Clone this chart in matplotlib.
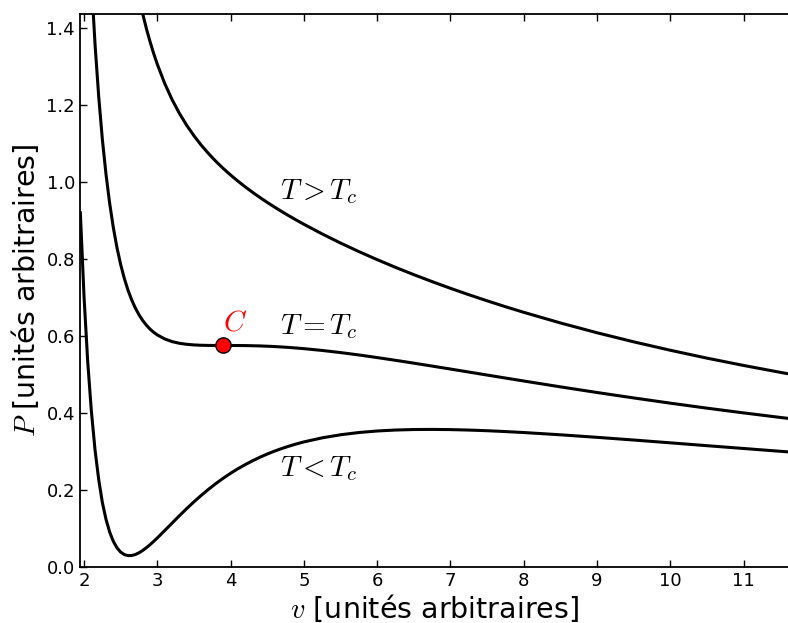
import numpy as np
import matplotlib
matplotlib.use("Agg")
import matplotlib.pyplot as plt

plt.rcParams['mathtext.fontset'] = 'cm'

v_low = [1.95, 2.0, 2.05, 2.1, 2.15, 2.2, 2.25, 2.3, 2.35, 2.4, 2.45, 2.5, 2.55,
         2.6, 2.65, 2.7, 2.75, 2.8, 2.85, 2.9, 2.95, 3.0, 3.1, 3.2, 3.3, 3.4,
         3.5, 3.6, 3.7, 3.8, 3.9, 4.0, 4.1, 4.2, 4.3, 4.4, 4.5, 4.6, 4.7, 4.8,
         4.9, 5.0, 5.25, 5.5, 5.75, 6.0, 6.25, 6.5, 6.75, 7.0, 7.25, 7.5, 7.75,
         8.0, 8.5, 9.0, 9.5, 10.0, 10.5, 11.0, 11.5, 11.6]
p_low = [0.920, 0.703, 0.534, 0.405, 0.304, 0.227, 0.167, 0.1232, 0.0900,
         0.0658, 0.0489, 0.0379, 0.0315, 0.0288, 0.0290, 0.0316, 0.0361, 0.0421,
         0.0492, 0.0571, 0.0657, 0.0747, 0.0937, 0.1130, 0.1322, 0.1508, 0.1686,
         0.1855, 0.2014, 0.2162, 0.2300, 0.2428, 0.2546, 0.2654, 0.2753, 0.2845,
         0.2928, 0.3004, 0.3073, 0.3135, 0.3192, 0.3243, 0.3349, 0.3429, 0.3487,
         0.3527, 0.3552, 0.3565, 0.3568, 0.3563, 0.3551, 0.3534, 0.3512, 0.3487,
         0.3428, 0.3362, 0.3292, 0.3219, 0.3145, 0.3072, 0.2999, 0.2985]

v_crit = [2.0, 2.05, 2.1, 2.15, 2.2, 2.25, 2.3, 2.35, 2.4, 2.45, 2.5, 2.55, 2.6,
          2.65, 2.7, 2.75, 2.8, 2.85, 2.9, 2.95, 3.0, 3.1, 3.2, 3.3, 3.4, 3.5,
          3.6, 3.7, 3.8, 3.9, 4.0, 4.2, 4.4, 4.6, 4.8, 5.0, 5.25, 5.5, 5.75, 6.0,
          6.25, 6.5, 6.75, 7.0, 7.25, 7.5, 7.75, 8.0, 8.5, 9.0, 9.5, 10.0, 10.5,
          11.0, 11.5, 11.6]
p_crit = [1.984, 1.730, 1.526, 1.359, 1.223, 1.111, 1.0202, 0.9443, 0.8813,
          0.8289, 0.7854, 0.7491, 0.7188, 0.6935, 0.6724, 0.6548, 0.6401, 0.6279,
          0.6177, 0.6093, 0.6024, 0.5920, 0.5851, 0.5807, 0.5780, 0.5764, 0.5755,
          0.5751, 0.5750, 0.5750, 0.5750, 0.5747, 0.5738, 0.5722, 0.5698, 0.5667,
          0.5620, 0.5565, 0.5503, 0.5435, 0.5364, 0.5290, 0.5214, 0.5137, 0.5059,
          0.4981, 0.4903, 0.4826, 0.4674, 0.4527, 0.4386, 0.4250, 0.4120, 0.3997,
          0.3879, 0.3856]

v_high = [2.7, 2.75, 2.8, 2.85, 2.9, 2.95, 3.0, 3.1, 3.2, 3.3, 3.4, 3.5, 3.6,
          3.7, 3.8, 3.9, 4.0, 4.1, 4.2, 4.3, 4.4, 4.5, 4.6, 4.7, 4.8, 4.9, 5.0,
          5.25, 5.5, 5.75, 6.0, 6.25, 6.5, 6.75, 7.0, 7.25, 7.5, 7.75, 8.0, 8.5,
          9.0, 9.5, 10.0, 10.5, 11.0, 11.5, 11.6]
p_high = [1.5266, 1.4796, 1.4374, 1.3995, 1.3652, 1.3342, 1.3059, 1.2565,
          1.2146, 1.1787, 1.1475, 1.1200, 1.0955, 1.0735, 1.0534, 1.0350, 1.0180,
          1.0021, 0.9871, 0.9730, 0.9596, 0.9468, 0.9346, 0.9228, 0.9115, 0.9006,
          0.8900, 0.8648, 0.8412, 0.8190, 0.7980, 0.7780, 0.7590, 0.7409, 0.7235,
          0.7069, 0.6910, 0.6757, 0.6611, 0.6335, 0.6080, 0.5844, 0.5625, 0.5420,
          0.5230, 0.5051, 0.5017]

# critical point
v_c, p_c = 3.9, 0.575

fig = plt.figure(figsize=(7.88, 6.23), dpi=100)
ax = fig.add_axes([0.1015, 0.0904, 0.8990, 0.8871])

for v, p in [(v_low, p_low), (v_crit, p_crit), (v_high, p_high)]:
    ax.plot(v, p, color='black', lw=2.2, solid_joinstyle='round')

ax.plot([v_c], [p_c], 'o', color='red', mec='black', mew=1.0, ms=11, zorder=5)
ax.text(4.06, 0.635, r'$C$', color='red', fontsize=21, ha='center', va='center')

ax.text(4.67, 0.975, r'$T>T_c$', fontsize=21, ha='left', va='center')
ax.text(4.67, 0.625, r'$T=T_c$', fontsize=21, ha='left', va='center')
ax.text(4.67, 0.255, r'$T<T_c$', fontsize=21, ha='left', va='center')

ax.set_xlim(1.945, 11.61)
ax.set_ylim(0, 1.4365)
ax.set_xticks(range(2, 12))
ax.set_yticks(np.arange(0, 1.41, 0.2))
ax.tick_params(direction='in', top=True, right=False, labelsize=13, length=5, width=1)
ax.spines['right'].set_visible(False)
for s in ['left', 'top', 'bottom']:
    ax.spines[s].set_linewidth(1.3)

ax.set_xlabel(r'$v$ [unités arbitraires]', fontsize=20.5, labelpad=2)
ax.set_ylabel(r'$P$ [unités arbitraires]', fontsize=20.5, labelpad=4)

fig.savefig('out.png', dpi=100)
